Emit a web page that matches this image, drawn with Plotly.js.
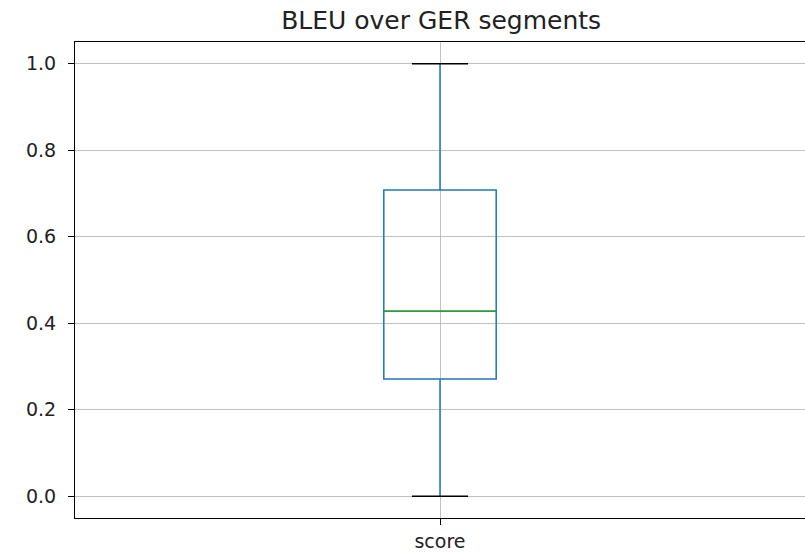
<!DOCTYPE html>
<html>
<head>
<meta charset="utf-8">
<script src="https://cdn.plot.ly/plotly-3.0.1.min.js"></script>
<style>html,body{margin:0;padding:0;background:#fff;}#chart{width:805px;height:556px;}</style>
</head>
<body>
<div id="chart"></div>
<script>
// Data
const categories = ['score'];
const lowerWhisker = [0.0];
const q1Values = [0.271];
const medianValues = [0.428];
const q3Values = [0.708];
const upperWhisker = [1.0];
const yTickVals = [0.0, 0.2, 0.4, 0.6, 0.8, 1.0];

const blue = '#1f77b4', green = '#2ca02c';
const font = {family: 'DejaVu Sans, sans-serif', size: 19, color: '#222'};

const traces = [
  {
    type: 'box', x: categories,
    q1: q1Values, median: medianValues, q3: q3Values,
    lowerfence: lowerWhisker, upperfence: upperWhisker,
    width: 0.154, whiskerwidth: 0,
    fillcolor: 'rgba(255,255,255,0)',
    line: {color: blue, width: 1.5},
    boxpoints: false, hoverinfo: 'y', showlegend: false
  },
  {
    type: 'scatter', mode: 'markers', x: categories, y: medianValues,
    marker: {symbol: 'line-ew', size: 79, line: {color: green, width: 1.5}},
    showlegend: false, hoverinfo: 'y'
  },
  {
    type: 'scatter', mode: 'markers',
    x: [categories[0], categories[0]], y: [lowerWhisker[0], upperWhisker[0]],
    marker: {symbol: 'line-ew', size: 40, line: {color: '#000', width: 1.5}},
    showlegend: false, hoverinfo: 'y'
  }
];

const layout = {
  width: 805, height: 556,
  margin: {l: 75, r: 0, t: 42, b: 38},
  paper_bgcolor: '#fff', plot_bgcolor: '#fff',
  font: font,
  title: {text: 'BLEU over GER segments', font: {family: 'DejaVu Sans, sans-serif', size: 25, color: '#222'},
          x: 0.548, xanchor: 'center', yref: 'container', y: 1 - 20/556, yanchor: 'middle'},
  xaxis: {
    type: 'category', range: [-0.5, 0.5],
    showgrid: true, gridcolor: '#b0b0b0', gridwidth: 0.8,
    showline: true, mirror: true, linecolor: '#000', linewidth: 1,
    ticks: 'outside', ticklen: 6, tickcolor: '#000', tickfont: font,
    zeroline: false, fixedrange: true
  },
  yaxis: {
    range: [-0.05, 1.05], tickvals: yTickVals, tickformat: '.1f',
    showgrid: true, gridcolor: '#b0b0b0', gridwidth: 0.8,
    showline: true, mirror: true, linecolor: '#000', linewidth: 1,
    ticks: 'outside', ticklen: 6, tickcolor: '#000', tickfont: font,
    ticklabelstandoff: 8,
    zeroline: false, fixedrange: true
  }
};

Plotly.newPlot('chart', traces, layout, {displayModeBar: false, staticPlot: true});
</script>
</body>
</html>
